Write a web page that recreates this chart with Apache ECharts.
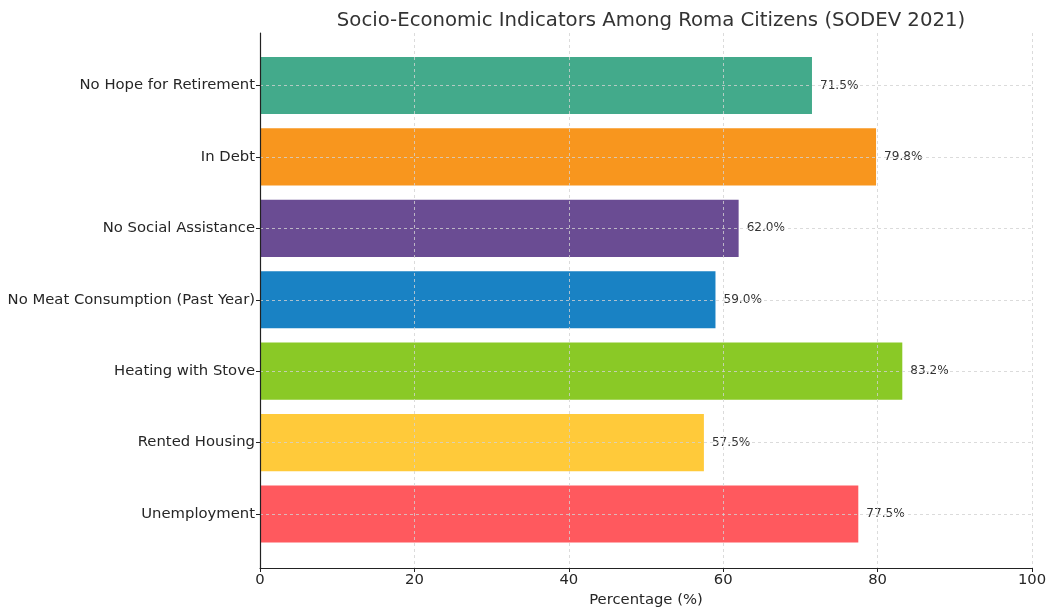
<!DOCTYPE html>
<html>
<head>
<meta charset="utf-8">
<script src="https://cdn.jsdelivr.net/npm/echarts@6/dist/echarts.min.js"></script>
<style>
  html, body { margin: 0; padding: 0; background: #fff; }
  #chart { width: 1049px; height: 608px; }
</style>
</head>
<body>
<div id="chart"></div>
<script>
// Indicators, listed bottom to top
const categories = [
  'Unemployment',
  'Rented Housing',
  'Heating with Stove',
  'No Meat Consumption (Past Year)',
  'No Social Assistance',
  'In Debt',
  'No Hope for Retirement'
];
const values = [77.5, 57.5, 83.2, 59.0, 62.0, 79.8, 71.5];
const barColors = ['#FF595E', '#FFCA3A', '#8AC926', '#1982C4', '#6A4C93', '#F8961E', '#43AA8B'];
const xTicks = [0, 20, 40, 60, 80, 100];

const FONT = 'DejaVu Sans';
const chart = echarts.init(document.getElementById('chart'), null, { renderer: 'canvas' });

const gridLine = { show: true, lineStyle: { color: '#d2d2d2', width: 0.8, type: [3, 3] } };

chart.setOption({
  animation: false,
  backgroundColor: '#ffffff',
  title: {
    text: 'Socio-Economic Indicators Among Roma Citizens (SODEV 2021)',
    left: 646,
    textAlign: 'center',
    top: 6,
    textStyle: { fontFamily: FONT, fontSize: 19.7, fontWeight: 'normal', color: '#333333' }
  },
  grid: [
    // frame: spines, x ticks and vertical grid lines
    { left: 260, right: 17, top: 33, bottom: 40, outerBoundsMode: 'none', containLabel: false },
    // bars: category centres from first to last
    { left: 260, right: 17, top: 85.5, bottom: 94, outerBoundsMode: 'none', containLabel: false }
  ],
  xAxis: [
    {
      gridIndex: 0, type: 'value', min: xTicks[0], max: xTicks[xTicks.length - 1], interval: 20,
      z: 3,
      name: 'Percentage (%)', nameLocation: 'middle', nameGap: 20,
      nameTextStyle: { fontFamily: FONT, fontSize: 14.8, color: '#262626' },
      axisLine: { show: true, lineStyle: { color: '#222', width: 1.2 } },
      axisTick: { show: true, length: 4, lineStyle: { color: '#222' } },
      axisLabel: { fontFamily: FONT, fontSize: 14.8, color: '#262626', margin: 5 },
      splitLine: gridLine
    },
    {
      gridIndex: 1, type: 'value', min: 0, max: 100, show: false,
      splitLine: { show: false }
    }
  ],
  yAxis: [
    {
      gridIndex: 0, type: 'value', min: 0, max: 1,
      z: 5,
      axisLine: { show: true, lineStyle: { color: '#222', width: 1.2 } },
      axisTick: { show: false }, axisLabel: { show: false }, splitLine: { show: false }
    },
    {
      gridIndex: 1, type: 'category', data: categories, boundaryGap: false,
      z: 3,
      axisLine: { show: false },
      axisTick: { show: true, length: 4, lineStyle: { color: '#222' } },
      axisLabel: { fontFamily: FONT, fontSize: 14.8, color: '#262626', margin: 5, padding: [3, 0, 0, 0] },
      splitLine: gridLine
    }
  ],
  series: [{
    type: 'bar',
    xAxisIndex: 1, yAxisIndex: 1,
    clip: false,
    barWidth: '80%',
    data: values.map((v, i) => ({ value: v, itemStyle: { color: barColors[i] } })),
    label: {
      show: true, position: 'right', distance: 8,
      fontFamily: FONT, fontSize: 12.1, color: '#333333',
      formatter: p => p.value.toFixed(1) + '%'
    }
  }]
});
</script>
</body>
</html>
